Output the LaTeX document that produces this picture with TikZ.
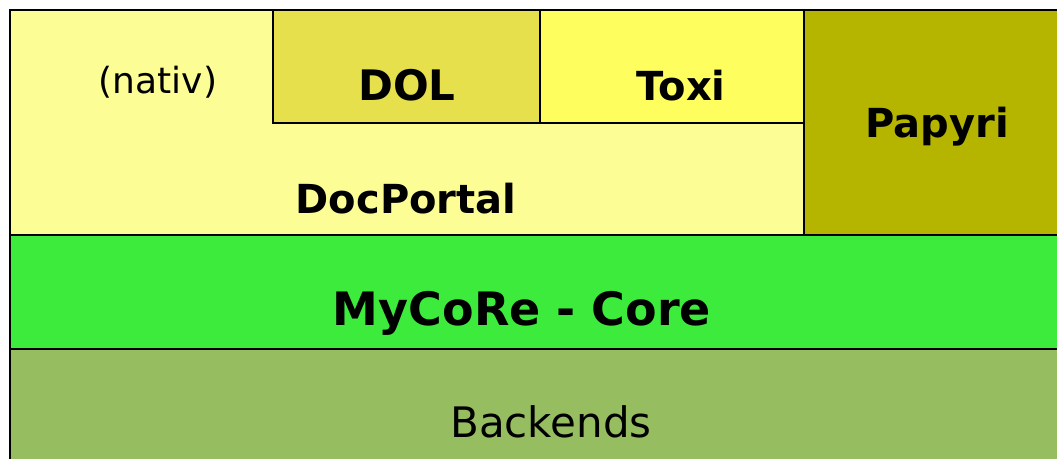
\documentclass[tikz,border=0pt]{standalone}
\usepackage{fontspec}
\setmainfont{DejaVu Sans}
\usetikzlibrary{positioning}

\definecolor{portalyellow}{HTML}{FDFD96}
\definecolor{dolyellow}{HTML}{E5E04C}
\definecolor{toxiyellow}{HTML}{FEFE5E}
\definecolor{papyriolive}{HTML}{B5B500}
\definecolor{coregreen}{HTML}{3CEB3C}
\definecolor{backendgreen}{HTML}{96BE60}

\begin{document}
\begin{tikzpicture}[x=1pt,y=-1pt,
		layer/.style={draw=black,line width=1.4pt},
		lbl/.style={anchor=base,inner sep=0pt,font=\fontsize{40}{48}\selectfont\bfseries},
		plain/.style={anchor=base,inner sep=0pt,font=\fontsize{42}{50}\selectfont}]
		\useasboundingbox (0,0) rectangle (1057,458);
		\clip (0,0) rectangle (1057,458);

		% layers
		\path[layer,fill=backendgreen] (10,349) rectangle (1080,480);
		\path[layer,fill=coregreen] (10,235) rectangle (1080,349);
		\path[layer,fill=portalyellow] (10,10) rectangle (804,235);
		\path[layer,fill=papyriolive] (804,10) rectangle (1080,235);
		\path[layer,fill=dolyellow] (273,10) rectangle (540,123);
		\path[layer,fill=toxiyellow] (540,10) rectangle (804,123);

		% labels
		\node[plain,font=\fontsize{36}{43}\selectfont] (nativ) at (158,93) {(nativ)};
		\node[lbl,font=\fontsize{42}{50}\selectfont\bfseries] (dol) at (407,100) {DOL};
		\node[lbl] (toxi) at (681,100) {Toxi};
		\node[lbl] (papyri) at (937,137) {Papyri};
		\node[lbl] (portal) at (406,213) {DocPortal};
		\node[lbl,font=\fontsize{46}{55}\selectfont\bfseries] (core) at (522,325) {MyCoRe - Core};
		\node[plain] (backends) at (551,437) {Backends};
	\end{tikzpicture}
\end{document}
